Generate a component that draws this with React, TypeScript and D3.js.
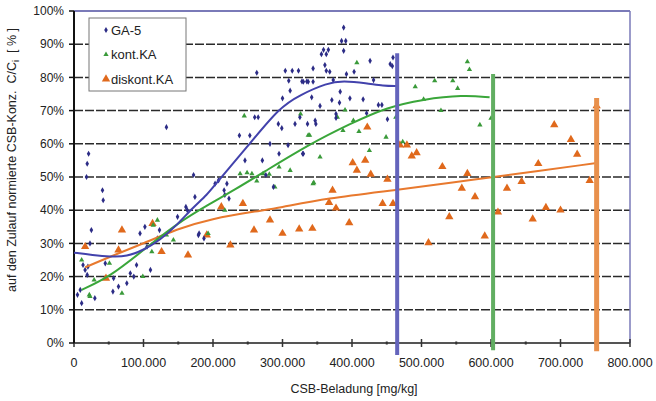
import React from "react";
import * as d3 from "d3";

// x in thousand mg/kg, y in %
const ga5Points: [number, number][] = [
  [5,14.5],[11,12],[9,16],[13,23.5],[20,23],[19,20.5],[16,22],[21,57],[19,54],[18,50],[41,46],[42,43],[25,34],[23,30],[30,13.5],
  [45,24],[57,19.5],[56,15.5],[64,17],[76,18],[81,21],[86,20],[90,23.5],[95,33],[102,35],[110,22],[105,29],[123,34],[120,31.5],
  [133,65],[149,38],[161,41],[174,44],[179,32.5],[163,40],[180,33],[187,31.5],[172,50.6],[208,49],[220,48],[216,46],[223,43.5],
  [203,48],[217,44.6],[238,62.5],[253,62.5],[260,68],[265,68],[294,66],[299,64.7],[318,66],[336,66],[348,66],[282,60],[308,59.6],
  [295,57],[329,57],[271,55],[246,55],[287,47],[276,50.6],[263,81.4],[304,82],[314,82],[323,82],[309,79],[328,78.8],[335,78.8],
  [300,73.7],[311,76],[325,68],[388,95],[385,91],[391,91],[388,88],[359,88.3],[366,88.3],[356,87],[363,87],[361,83.7],[344,82.7],
  [363,82],[368,81.7],[426,85],[455,84],[459,86],[458,83.4],[403,81.7],[392,81],[330,78.7],[337,78.7],[344,78.7],[373,79.2],
  [431,79.2],[342,74],[383,75.7],[371,73.2],[382,72.4],[397,73.7],[416,73.4],[438,71.7],[443,71.7],[354,71.4],[421,69.2],
  [377,69],[377,67.8],[347,67],[451,67.4],[330,57]
];
const kontPoints: [number, number][] = [
  [11,25],[22,14.5],[23,14],[29,19],[51,24],[69,15],[99,20],[120,37],[114,35.5],[143,31],[112,27.5],[133,32.5],[245,68.4],
  [326,69],[339,62.6],[311,52],[295,53],[239,51],[249,51.3],[256,51],[263,48.8],[272,51],[281,50.8],[289,47],[345,48.3],[217,40],
  [193,33],[407,84.4],[491,77.2],[390,70.2],[379,68],[387,64],[402,67],[410,63.7],[449,62],[463,68],[337,62.6],[425,58],[354,56],
  [344,48],[566,84.7],[569,82.4],[519,79],[545,79],[552,76.7],[503,73.4],[528,70],[584,65.7],[600,67.7],[473,60.6]
];
const diskontPoints: [number, number][] = [
  [16,29],[69,34],[64,28],[46,19.5],[113,36],[126,27.5],[164,26.5],[212,41],[243,42],[282,37],[259,34],[300,33],[324,34.3],
  [343,34.5],[225,29.5],[191,32.5],[422,65],[469,59.6],[479,59.6],[486,56.3],[493,57.3],[401,54.3],[419,55],[407,52],[427,50.8],
  [451,49.3],[372,46],[367,42.3],[377,40.6],[444,42],[459,42],[752,71.4],[691,65.7],[715,61.3],[724,56.8],[668,54],[530,53.1],
  [566,51],[558,46.6],[577,44],[644,48.6],[623,46.6],[742,48.9],[540,38],[591,32.2],[610,39.4],[660,37.3],[679,40.8],[700,40],
  [396,36.2],[510,30.2]
];

const ga5Trend: [number, number][] = [
  [0,27.2],[27,26.5],[52,26],[76,26],[100,28],[124,31],[148,35.5],[172,41],[191,44.5],[206,48.5],[253,60],[296,71],[325,74.7],
  [364,78.3],[387,79],[421,78.3],[445,77.4],[465,77.4]
];
const kontTrend: [number, number][] = [
  [11,16],[52,20],[100,28],[148,36],[196,42],[230,46],[277,52],[340,60],[397,66],[450,71],[502,73.4],[560,74.7],[598,74]
];
const diskontTrend: [number, number][] = [
  [16,22.8],[52,26],[100,30],[148,34.3],[196,37.4],[268,39.9],[292,40.6],[364,43.6],[460,46],[555,48.6],[603,50],[752,54.2]
];

// capacity markers: x (thousand), y bottom %, y top %
const capLines = [
  { x: 465, y0: -3.6, y1: 87.3, color: "#6464bc", w: 4 },
  { x: 603, y0: -2.2, y1: 81, color: "#62ae62", w: 4 },
  { x: 752, y0: -2.5, y1: 73.8, color: "#e8904c", w: 5 },
];

const yTicks = [0, 10, 20, 30, 40, 50, 60, 70, 80, 90, 100];
const xTicks = [0, 100, 200, 300, 400, 500, 600, 700, 800];
const xTickLabels = ["0", "100.000", "200.000", "300.000", "400.000", "500.000", "600.000", "700.000", "800.000"];
const legendLabels = ["GA-5", "kont.KA", "diskont.KA"];

const W = 656, H = 401;
const FONT = "'Liberation Sans', Arial, sans-serif";

export default function App() {
  const x = d3.scaleLinear().domain([0, 800000]).range([74, 630]);
  const y = d3.scaleLinear().domain([0, 1]).range([343, 11]);
  const px = (k: number) => x(k * 1000);
  const py = (p: number) => y(p / 100);

  const line = d3.line<[number, number]>().x(d => px(d[0])).y(d => py(d[1])).curve(d3.curveBasis);
  const diamond = d3.symbol().type(d3.symbolDiamond).size(11)()!;
  const triSmall = d3.symbol().type(d3.symbolTriangle).size(12)()!;
  const triBig = d3.symbol().type(d3.symbolTriangle).size(30)()!;

  const minor = d3.range(50, 800, 100);

  const blue = "#2c2c86", green = "#3a9a3a", orange = "#e0691c";

  return (
    <svg width={W} height={H} style={{ position: "absolute", left: 0, top: 0, background: "#fff" }} fontFamily={FONT}>
      {/* gridlines */}
      {yTicks.filter(t => t > 0 && t < 100).map(t => (
        <line key={"g" + t} x1={x(0)} x2={x(800000)} y1={py(t)} y2={py(t)} stroke="#2a2a2a" strokeWidth={1.5} strokeDasharray="9 2" />
      ))}
      {/* frame top & right */}
      <line x1={x(0)} x2={x(800000)} y1={py(100)} y2={py(100)} stroke="#7a7ab8" strokeWidth={2} />
      <line x1={x(800000)} x2={x(800000)} y1={py(100)} y2={py(0)} stroke="#7a7ab8" strokeWidth={1.5} />
      {/* bottom axis */}
      <line x1={x(0)} x2={x(800000)} y1={py(0)} y2={py(0)} stroke="#555" strokeWidth={2} />
      {xTicks.map(t => (
        <line key={"xt" + t} x1={px(t)} x2={px(t)} y1={py(0) - 4} y2={py(0) + 4} stroke="#333" strokeWidth={1.5} />
      ))}
      {minor.map(t => (
        <line key={"xm" + t} x1={px(t)} x2={px(t)} y1={py(0) - 1.5} y2={py(0) + 1.5} stroke="#333" strokeWidth={2} />
      ))}
      {/* left axis */}
      <line x1={x(0)} x2={x(0)} y1={py(100)} y2={py(0)} stroke="#111" strokeWidth={2} />
      {yTicks.map(t => (
        <line key={"yt" + t} x1={x(0) - 5} x2={x(0)} y1={py(t)} y2={py(t)} stroke="#111" strokeWidth={1.5} />
      ))}
      {/* tick labels */}
      {yTicks.map(t => (
        <text key={"yl" + t} x={64} y={py(t)} dy="0.35em" textAnchor="end" fontSize={12} fill="#222">{t + "%"}</text>
      ))}
      {xTicks.map((t, i) => (
        <text key={"xl" + t} x={px(t)} y={367} textAnchor="middle" fontSize={12.5} fill="#222">{xTickLabels[i]}</text>
      ))}
      {/* axis titles */}
      <text x={354} y={393} textAnchor="middle" fontSize={12.5} fill="#222">CSB-Beladung [mg/kg]</text>
      <text transform="translate(16,160) rotate(-90)" textAnchor="middle" fontSize={12.5} fill="#222">
        auf den Zulauf normierte CSB-Konz.{"\u00a0\u00a0"}C/C<tspan fontSize={9} dy={3}>i</tspan><tspan dy={-3}>{"\u00a0\u00a0[ % ]"}</tspan>
      </text>

      {/* points */}
      {diskontPoints.map((d, i) => (
        <path key={"o" + i} d={triBig} transform={`translate(${px(d[0])},${py(d[1])})`} fill={orange} />
      ))}
      {kontPoints.map((d, i) => (
        <path key={"k" + i} d={triSmall} transform={`translate(${px(d[0])},${py(d[1])})`} fill={green} />
      ))}
      {ga5Points.map((d, i) => (
        <path key={"b" + i} d={diamond} transform={`translate(${px(d[0])},${py(d[1])})`} fill={blue} />
      ))}

      {/* trend lines */}
      <path d={line(diskontTrend)!} fill="none" stroke="#e8792e" strokeWidth={2} />
      <path d={line(kontTrend)!} fill="none" stroke="#3aa63a" strokeWidth={2} />
      <path d={line(ga5Trend)!} fill="none" stroke="#4242ac" strokeWidth={2} />

      {/* capacity lines */}
      {capLines.map((c, i) => (
        <line key={"c" + i} x1={px(c.x)} x2={px(c.x)} y1={py(c.y0)} y2={py(c.y1)} stroke={c.color} strokeWidth={c.w} />
      ))}

      {/* legend */}
      <rect x={89} y={18} width={97} height={73} fill="#fff" stroke="#777" strokeWidth={1} />
      {legendLabels.map((l, i) => {
        const ly = 30 + i * 24.5;
        const sym = i === 0 ? diamond : i === 1 ? triSmall : triBig;
        const col = i === 0 ? blue : i === 1 ? green : orange;
        return (
          <g key={"lg" + i}>
            <path d={sym} transform={`translate(106,${ly})`} fill={col} />
            <text x={111} y={ly} dy="0.35em" fontSize={13} fill="#222">{l}</text>
          </g>
        );
      })}
    </svg>
  );
}
